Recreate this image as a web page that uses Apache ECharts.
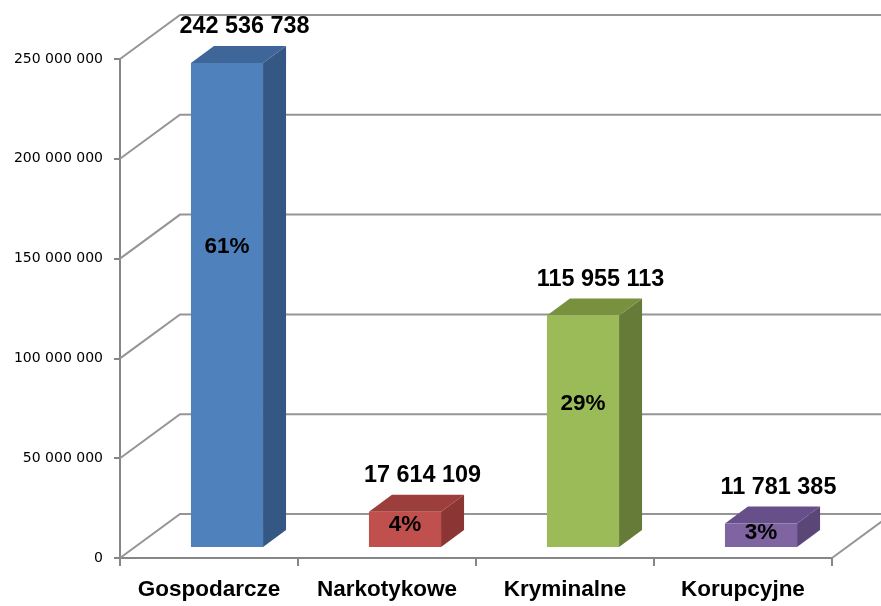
<!DOCTYPE html>
<html>
<head>
<meta charset="utf-8">
<script src="https://cdn.jsdelivr.net/npm/echarts@6/dist/echarts.min.js"></script>
<style>
html,body{margin:0;padding:0;background:#fff;}
#chart{width:881px;height:606px;}
</style>
</head>
<body>
<div id="chart"></div>
<script>
// ---- data ----
const categories = ['Gospodarcze', 'Narkotykowe', 'Kryminalne', 'Korupcyjne'];
const values = [242536738, 17614109, 115955113, 11781385];
const percentLabels = ['61%', '4%', '29%', '3%'];
const yTicks = [0, 50000000, 100000000, 150000000, 200000000, 250000000];
const yTickLabels = ['0', '50 000 000', '100 000 000', '150 000 000', '200 000 000', '250 000 000'];

// ---- styles ----
const faceColors = [
  { front: '#4f81bd', side: '#345783', top: '#3e6698' },
  { front: '#c0504d', side: '#8b3634', top: '#9c3f3c' },
  { front: '#9bbb59', side: '#667b38', top: '#77913f' },
  { front: '#8064a2', side: '#5b4777', top: '#67508a' }
];
const WALL_DX = 60, WALL_DY = -44;     // depth of the floor / back wall
const BAR_FX = 18, BAR_FY = -11;       // offset of bar front face from front plane
const BAR_DX = 23, BAR_DY = -17;       // depth of each bar
const BAR_W = 0.405;                   // fraction of band width
const LABEL_FRAC = 0.62;               // where the percent label sits inside a bar
const gridColor = '#959595';
const axisColor = '#868686';

function fmt(v) {
  return String(v).replace(/\B(?=(\d{3})+(?!\d))/g, ' ');
}

const chart = echarts.init(document.getElementById('chart'), null, { renderer: 'canvas' });

const option = {
  animation: false,
  backgroundColor: '#ffffff',
  grid: { left: 120, right: 49, top: 59, bottom: 48 },
  xAxis: {
    type: 'category',
    data: categories,
    boundaryGap: true,
    axisLine: { show: true, lineStyle: { color: axisColor, width: 2 } },
    axisTick: { show: true, interval: 0, length: 8, lineStyle: { color: axisColor, width: 2 } },
    axisLabel: {
      interval: 0,
      color: '#000',
      fontFamily: 'Liberation Sans',
      fontWeight: 'bold',
      fontSize: 22.5,
      margin: 32,
      verticalAlign: 'middle'
    },
    splitLine: { show: false }
  },
  yAxis: {
    type: 'value',
    min: 0,
    max: 250000000,
    interval: 50000000,
    axisLine: { show: true, lineStyle: { color: axisColor, width: 2 } },
    axisTick: { show: true, length: 6, lineStyle: { color: axisColor, width: 2 } },
    axisLabel: {
      color: '#000',
      fontFamily: 'DejaVu Sans',
      fontSize: 14,
      margin: 17,
      verticalAlign: 'middle',
      padding: [7, 0, 0, 0],
      formatter: function (v) {
        const i = yTicks.indexOf(v);
        return i >= 0 ? yTickLabels[i] : '';
      }
    },
    splitLine: { show: false }
  },
  series: [
    {
      // back wall gridlines and floor
      type: 'custom',
      clip: false,
      z: 1,
      silent: true,
      encode: { x: 0, y: 1 },
      data: yTicks.map(function (t) { return [0, t]; }),
      renderItem: function (params, api) {
        const cs = params.coordSys;
        const t = api.value(1);
        const y = api.coord([0, t])[1];
        const x0 = cs.x;
        const x1 = cs.x + cs.width;
        const children = [];
        children.push({
          type: 'polyline',
          shape: { points: [[x0, y], [x0 + WALL_DX, y + WALL_DY], [x1 + WALL_DX, y + WALL_DY]] },
          style: { stroke: gridColor, lineWidth: 2, fill: null }
        });
        if (t === 0) {
          children.push({
            type: 'line',
            shape: { x1: x1, y1: y, x2: x1 + WALL_DX, y2: y + WALL_DY },
            style: { stroke: gridColor, lineWidth: 2 }
          });
        }
        return { type: 'group', children: children };
      }
    },
    {
      // 3D bars
      type: 'custom',
      clip: false,
      z: 5,
      encode: { x: 0, y: 1 },
      data: values.map(function (v, i) { return [i, v]; }),
      renderItem: function (params, api) {
        const i = api.value(0);
        const v = api.value(1);
        const c0 = api.coord([i, 0]);
        const c1 = api.coord([i, v]);
        const band = api.size([1, 0])[0];
        const w = band * BAR_W;
        const x0 = c0[0] - w / 2 + BAR_FX;
        const x1 = x0 + w;
        const yb = c0[1] + BAR_FY;
        const yt = c1[1] + BAR_FY;
        const col = faceColors[i];
        const yl = api.coord([i, v * LABEL_FRAC])[1] + BAR_FY;
        return {
          type: 'group',
          children: [
            {
              type: 'polygon',
              shape: { points: [[x1, yt], [x1 + BAR_DX, yt + BAR_DY], [x1 + BAR_DX, yb + BAR_DY], [x1, yb]] },
              style: { fill: col.side }
            },
            {
              type: 'polygon',
              shape: { points: [[x0, yt], [x0 + BAR_DX, yt + BAR_DY], [x1 + BAR_DX, yt + BAR_DY], [x1, yt]] },
              style: { fill: col.top }
            },
            {
              type: 'rect',
              shape: { x: x0, y: yt, width: w, height: yb - yt },
              style: { fill: col.front }
            },
            {
              type: 'text',
              x: x0 + w / 2,
              y: yl,
              style: {
                text: percentLabels[i],
                fill: '#000',
                font: 'bold 22.5px "Liberation Sans"',
                align: 'center',
                verticalAlign: 'middle'
              }
            },
            {
              type: 'text',
              x: x0 + w / 2 + BAR_DX / 2 + 6,
              y: yt + BAR_DY - 19,
              style: {
                text: fmt(values[i]),
                fill: '#000',
                font: 'bold 23.4px "Liberation Sans"',
                align: 'center',
                verticalAlign: 'middle'
              }
            }
          ]
        };
      }
    }
  ]
};

chart.setOption(option);
</script>
</body>
</html>
